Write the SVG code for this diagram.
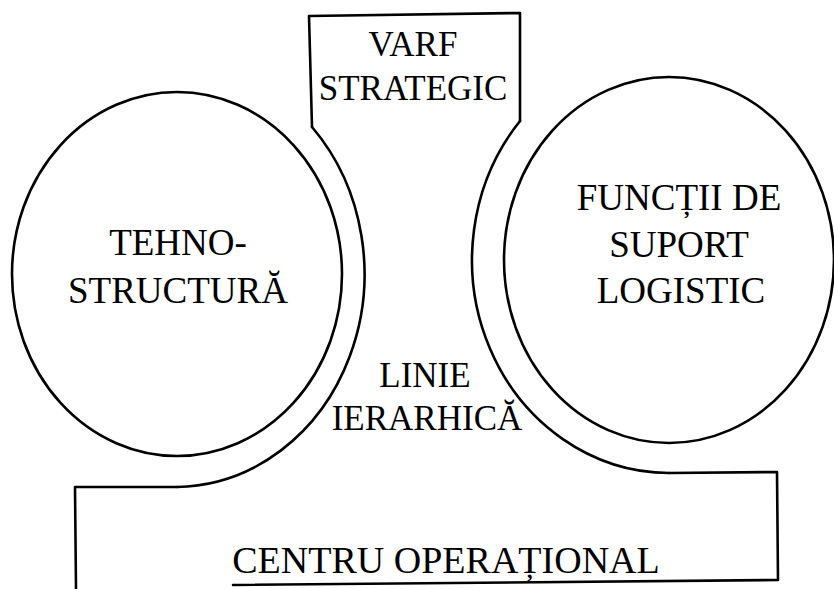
<svg xmlns="http://www.w3.org/2000/svg" width="834" height="589" viewBox="0 0 834 589">
<style>
.ln{fill:none;stroke:#000;stroke-width:2.6;stroke-linejoin:round;stroke-linecap:round}
.t{fill:#000;text-anchor:middle}
</style>
<rect width="834" height="589" fill="#fff"/>
<g font-family="Liberation Serif, Times New Roman, serif">
<g id="varf-strategic">
<path class="ln" d="M312,127 L309,16 L520,13 L520,121"/>
<text class="t" x="413" y="56" font-size="35">VARF</text>
<text class="t" x="413" y="100" font-size="35">STRATEGIC</text>
</g>
<g id="tehnostructura">
<ellipse class="ln" cx="177" cy="274" rx="165" ry="182"/>
<text class="t" x="178" y="255" font-size="37">TEHNO-</text>
<text class="t" x="178" y="303" font-size="37">STRUCTURĂ</text>
</g>
<g id="functii-suport-logistic">
<ellipse class="ln" cx="669" cy="260" rx="165" ry="183"/>
<text class="t" x="679" y="210" font-size="37">FUNCȚII DE</text>
<text class="t" x="679" y="257" font-size="37">SUPORT</text>
<text class="t" x="681" y="303" font-size="37">LOGISTIC</text>
</g>
<g id="linie-ierarhica">
<path class="ln" d="M312,127 A190,213 0 0 1 177,487"/>
<path class="ln" d="M520,121 A198,213 0 0 0 669,473"/>
<text class="t" x="425" y="387" font-size="35">LINIE</text>
<text class="t" x="427" y="430" font-size="35">IERARHICĂ</text>
</g>
<g id="centru-operational">
<path class="ln" d="M76,589 L75,487 L177,487"/>
<path class="ln" d="M669,473 L777,472 L778,580 L233,585"/>
<text class="t" x="446" y="573" font-size="38">CENTRU OPERAȚIONAL</text>
</g>
</g>
<g id="connectors"/>
</svg>
